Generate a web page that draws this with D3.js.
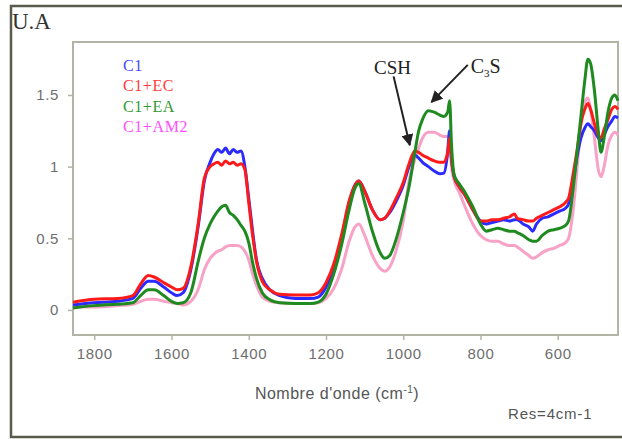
<!DOCTYPE html>
<html>
<head>
<meta charset="utf-8">
<script src="https://cdn.jsdelivr.net/npm/d3@7"></script>
<style>
  body { margin: 0; background: #fff; }
  svg { display: block; }
</style>
</head>
<body>
<svg id="chart" width="622" height="439"></svg>
<script>
// wavenumbers (cm-1), shared by all spectra
var waves = [1855, 1800, 1740, 1700, 1680, 1660, 1645, 1620, 1600, 1585, 1570, 1550, 1530, 1515, 1500, 1490, 1480, 1470, 1460, 1450, 1440, 1430, 1420, 1410, 1400, 1390, 1380, 1365, 1345, 1320, 1280, 1240, 1220, 1200, 1180, 1160, 1140, 1125, 1115, 1100, 1080, 1060, 1048, 1035, 1020, 1000, 985, 970, 960, 950, 935, 920, 905, 895, 885, 880, 875, 868, 855, 840, 820, 800, 785, 770, 755, 740, 725, 712, 705, 690, 675, 665, 655, 640, 625, 610, 595, 580, 572, 560, 548, 540, 530, 522, 515, 505, 495, 488, 480, 470, 460, 452, 444];

var c1 = [0.035, 0.05, 0.06, 0.08, 0.15, 0.2, 0.2, 0.16, 0.12, 0.1, 0.12, 0.28, 0.6, 0.9, 1.03, 1.09, 1.12, 1.1, 1.13, 1.09, 1.12, 1.1, 1.11, 1.0, 0.78, 0.55, 0.35, 0.22, 0.14, 0.1, 0.08, 0.08, 0.09, 0.16, 0.3, 0.5, 0.75, 0.87, 0.9, 0.83, 0.7, 0.63, 0.64, 0.68, 0.75, 0.87, 1.0, 1.08, 1.06, 1.03, 1.0, 0.97, 0.95, 0.955, 1.1, 1.25, 1.05, 0.93, 0.86, 0.8, 0.7, 0.62, 0.6, 0.61, 0.62, 0.63, 0.62, 0.63, 0.63, 0.6, 0.58, 0.55, 0.6, 0.64, 0.65, 0.67, 0.69, 0.71, 0.74, 0.9, 1.1, 1.2, 1.27, 1.3, 1.28, 1.25, 1.2, 1.18, 1.22, 1.28, 1.32, 1.35, 1.34];

var c1ec = [0.054, 0.075, 0.08, 0.1, 0.18, 0.24, 0.23, 0.19, 0.16, 0.14, 0.15, 0.3, 0.62, 0.92, 1.0, 1.02, 1.03, 1.01, 1.04, 1.02, 1.03, 1.01, 1.02, 0.98, 0.75, 0.52, 0.34, 0.2, 0.14, 0.11, 0.105, 0.105, 0.12, 0.19, 0.32, 0.52, 0.76, 0.87, 0.9, 0.83, 0.7, 0.63, 0.64, 0.69, 0.77, 0.89, 1.02, 1.11, 1.1, 1.08, 1.06, 1.04, 1.03, 1.03, 1.1, 1.2, 1.05, 0.93, 0.86, 0.8, 0.7, 0.62, 0.62, 0.63, 0.63, 0.64, 0.65, 0.67, 0.64, 0.63, 0.62, 0.62, 0.64, 0.66, 0.68, 0.7, 0.72, 0.75, 0.78, 0.95, 1.15, 1.3, 1.4, 1.44, 1.4, 1.3, 1.22, 1.2, 1.26, 1.33, 1.4, 1.42, 1.4];

var c1ea = [0.014, 0.03, 0.04, 0.05, 0.1, 0.14, 0.14, 0.1, 0.06, 0.045, 0.05, 0.12, 0.35, 0.5, 0.6, 0.65, 0.69, 0.72, 0.73, 0.68, 0.66, 0.63, 0.59, 0.55, 0.47, 0.33, 0.22, 0.12, 0.07, 0.05, 0.045, 0.045, 0.055, 0.11, 0.25, 0.45, 0.7, 0.85, 0.88, 0.75, 0.55, 0.4, 0.36, 0.38, 0.48, 0.68, 0.86, 1.1, 1.25, 1.33, 1.39, 1.38, 1.36, 1.35, 1.38, 1.46, 1.15, 0.94, 0.88, 0.82, 0.72, 0.6, 0.55, 0.56, 0.57, 0.56, 0.55, 0.55, 0.54, 0.52, 0.49, 0.48, 0.48, 0.52, 0.55, 0.56, 0.57, 0.59, 0.62, 0.85, 1.15, 1.35, 1.6, 1.75, 1.72, 1.53, 1.25, 1.1, 1.2, 1.38, 1.48, 1.5, 1.46];

var c1am2 = [0.02, 0.02, 0.03, 0.04, 0.06, 0.075, 0.075, 0.06, 0.05, 0.045, 0.035, 0.06, 0.15, 0.28, 0.36, 0.39, 0.41, 0.42, 0.44, 0.45, 0.45, 0.45, 0.44, 0.41, 0.35, 0.25, 0.17, 0.09, 0.06, 0.05, 0.045, 0.045, 0.05, 0.08, 0.15, 0.28, 0.48, 0.58, 0.6, 0.52, 0.38, 0.29, 0.27, 0.3, 0.4, 0.62, 0.9, 1.05, 1.13, 1.2, 1.24, 1.24, 1.22, 1.21, 1.21, 1.2, 1.0, 0.9, 0.82, 0.72, 0.6, 0.52, 0.49, 0.48, 0.48, 0.46, 0.45, 0.45, 0.44, 0.41, 0.38, 0.36, 0.37, 0.4, 0.42, 0.43, 0.45, 0.47, 0.5, 0.7, 1.05, 1.3, 1.45, 1.48, 1.4, 1.2, 0.98, 0.93, 1.0, 1.15, 1.22, 1.24, 1.22];

var seriesNames = ["C1", "C1+EC", "C1+EA", "C1+AM2"];
var xTicks = [1800, 1600, 1400, 1200, 1000, 800, 600];
var yTicks = [0, 0.5, 1, 1.5];

var svg = d3.select("#chart");
var plotL = 73, plotT = 42, plotR = 618, plotB = 335;

var x = d3.scaleLinear().domain([1855, 444]).range([plotL, plotR]);
var y = d3.scaleLinear().domain([-0.175, 1.87]).range([plotB, plotT]);

// outer frame
svg.append("rect")
   .attr("x", 11).attr("y", 6)
   .attr("width", 640).attr("height", 431)
   .style("fill", "#fff")
   .style("stroke", "#5a5a4c")
   .style("stroke-width", 2.5);

// plot box
svg.append("rect")
   .attr("x", plotL).attr("y", plotT)
   .attr("width", plotR - plotL).attr("height", plotB - plotT)
   .style("fill", "#fff")
   .style("stroke", "#b4b4a6")
   .style("stroke-width", 2);

// axes (ticks only, box draws the lines)
var xAxis = svg.append("g")
   .attr("transform", "translate(0," + (plotB + 1) + ")")
   .call(d3.axisBottom(x).tickValues(xTicks).tickSize(4).tickPadding(8).tickFormat(d3.format("d")));
var yAxis = svg.append("g")
   .attr("transform", "translate(" + (plotL - 1) + ",0)")
   .call(d3.axisLeft(y).tickValues(yTicks).tickSize(4).tickPadding(9).tickFormat(d => d));

[xAxis, yAxis].forEach(function(a) {
	a.select(".domain").remove();
	a.selectAll("line").style("stroke", "#b4b4a6").style("stroke-width", 1.5);
	a.selectAll("text")
	 .style("font-family", "Arial, 'Liberation Sans', sans-serif")
	 .style("font-size", "15px")
	 .style("letter-spacing", "0.6px")
	 .style("fill", "#6e6e6e");
});

// spectra
var lineColors = {"C1": "#2b2bff", "C1+EC": "#ff1a1a", "C1+EA": "#1f8a1f", "C1+AM2": "#f7a2c6"};
var legendColors = {"C1": "#4848ff", "C1+EC": "#ff3c3c", "C1+EA": "#2f9a2f", "C1+AM2": "#ff4cff"};
var values = {"C1": c1, "C1+EC": c1ec, "C1+EA": c1ea, "C1+AM2": c1am2};

var line = d3.line()
	.x((d, i) => x(waves[i]))
	.y(d => y(d))
	.curve(d3.curveMonotoneX);

svg.append("g")
   .selectAll("path")
   .data(["C1+AM2", "C1", "C1+EC", "C1+EA"])
   .enter()
   .append("path")
   .attr("d", d => line(values[d]))
   .style("fill", "none")
   .style("stroke", d => lineColors[d])
   .style("stroke-width", 3)
   .style("stroke-linejoin", "round");

// legend
svg.append("g")
   .selectAll("text")
   .data(seriesNames)
   .enter()
   .append("text")
   .attr("x", 123)
   .attr("y", (d, i) => 71 + i * 20.3)
   .text(d => d)
   .style("font-family", "'Times New Roman', 'Liberation Serif', serif")
   .style("font-size", "16px")
   .style("letter-spacing", "0.6px")
   .style("fill", d => legendColors[d]);

// annotations
var defs = svg.append("defs");
defs.append("marker")
	.attr("id", "arrow")
	.attr("viewBox", "0 0 10 10")
	.attr("refX", 9).attr("refY", 5)
	.attr("markerWidth", 6).attr("markerHeight", 6)
	.attr("orient", "auto")
	.append("path")
	.attr("d", "M0,0L10,5L0,10z")
	.style("fill", "#222");

var arrows = [
	{from: [1025, 1.63], to: [983, 1.15]},
	{from: [833, 1.71], to: [927, 1.45]}
];
svg.append("g")
   .selectAll("line")
   .data(arrows)
   .enter()
   .append("line")
   .attr("x1", d => x(d.from[0])).attr("y1", d => y(d.from[1]))
   .attr("x2", d => x(d.to[0])).attr("y2", d => y(d.to[1]))
   .style("stroke", "#222")
   .style("stroke-width", 2)
   .attr("marker-end", "url(#arrow)");

var serif = "'Times New Roman', 'Liberation Serif', serif";
svg.append("text")
   .attr("x", x(1025) - 1).attr("y", y(1.63) - 2)
   .attr("text-anchor", "middle")
   .style("font-family", serif).style("font-size", "19px").style("fill", "#222")
   .text("CSH");
var c3s = svg.append("text")
   .attr("x", x(833) + 3).attr("y", y(1.71) + 8)
   .style("font-family", serif).style("font-size", "20px").style("fill", "#222");
c3s.append("tspan").text("C");
c3s.append("tspan").attr("dy", 4).style("font-size", "11px").text("3");
c3s.append("tspan").attr("dy", -4).text("S");

// titles
svg.append("text")
   .attr("x", 12).attr("y", 29)
   .style("font-family", serif).style("font-size", "23px").style("fill", "#333")
   .text("U.A");

var xt = svg.append("text")
   .attr("x", 337).attr("y", 399)
   .attr("text-anchor", "middle")
   .style("font-family", "Arial, 'Liberation Sans', sans-serif")
   .style("font-size", "16px").style("letter-spacing", "0.5px").style("fill", "#555");
xt.append("tspan").text("Nombre d'onde (cm");
xt.append("tspan").attr("dy", -6).style("font-size", "10px").text("-1");
xt.append("tspan").attr("dy", 6).text(")");

svg.append("text")
   .attr("x", 508).attr("y", 419)
   .style("font-family", "Arial, 'Liberation Sans', sans-serif")
   .style("font-size", "15px").style("letter-spacing", "0.8px").style("fill", "#555")
   .text("Res=4cm-1");
</script>
</body>
</html>
